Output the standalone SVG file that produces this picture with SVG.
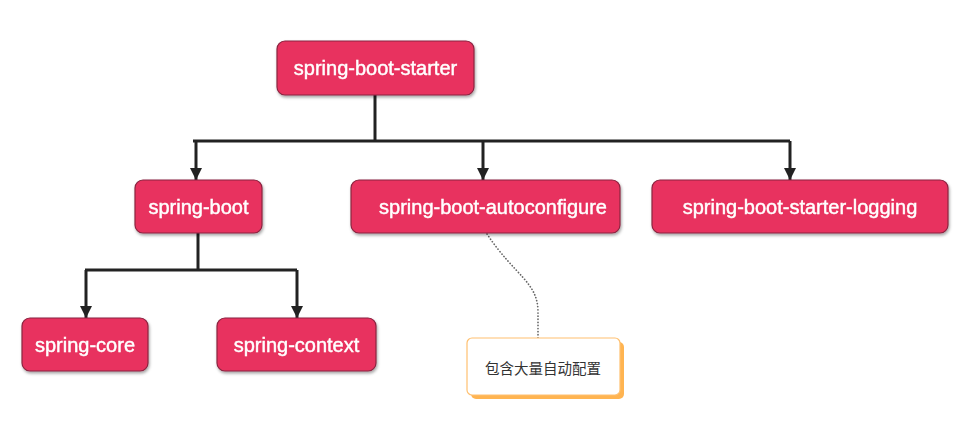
<svg xmlns="http://www.w3.org/2000/svg" width="965" height="436" viewBox="0 0 965 436">
<style>
.node rect{fill:#E8335E;stroke:#8a2440;stroke-width:1.2}
.node text{fill:#fff;stroke:#fff;stroke-width:0.45;font-family:"Liberation Sans",Arial,sans-serif;font-size:20px;text-anchor:middle;dominant-baseline:central}
.conn .edge{fill:none;stroke:#222;stroke-width:3}
.conn .dot{fill:none;stroke:#666;stroke-width:1.7;stroke-linecap:round;stroke-dasharray:0.1,3}
.note text{fill:#333;font-family:"Noto Sans CJK SC","Liberation Sans",sans-serif;font-size:14.5px;text-anchor:middle;dominant-baseline:central}
</style>
<defs>
<marker id="ah" viewBox="0 0 12 12" refX="12" refY="6" markerWidth="12" markerHeight="12" markerUnits="userSpaceOnUse" orient="auto">
<path d="M0,0 L12,6 L0,12 Z" fill="#222"/>
</marker>
<filter id="sh" x="-10%" y="-10%" width="120%" height="130%">
<feDropShadow dx="1" dy="2" stdDeviation="1.5" flood-color="#000" flood-opacity="0.35"/>
</filter>
</defs>
<rect width="965" height="436" fill="#fff"/>
<g class="conn">
<path class="edge" d="M375,95 V141"/>
<path class="edge" d="M193,141 H790"/>
<path class="edge" d="M196,141 V180" marker-end="url(#ah)"/>
<path class="edge" d="M483,141 V180" marker-end="url(#ah)"/>
<path class="edge" d="M790,141 V180" marker-end="url(#ah)"/>
<path class="edge" d="M198,233 V270"/>
<path class="edge" d="M85,270 H297"/>
<path class="edge" d="M86,270 V318" marker-end="url(#ah)"/>
<path class="edge" d="M297,270 V318" marker-end="url(#ah)"/>
<path class="dot" d="M487,234 C515,276 538,282 538,312 L538,338"/>
</g>
<g id="spring-boot-starter" class="node" filter="url(#sh)">
<rect x="277" y="41" width="197" height="54" rx="8"/>
<text x="375.5" y="68">spring-boot-starter</text>
</g>
<g id="spring-boot" class="node" filter="url(#sh)">
<rect x="135" y="180" width="127" height="53" rx="8"/>
<text x="198.5" y="207">spring-boot</text>
</g>
<g id="spring-boot-autoconfigure" class="node" filter="url(#sh)">
<rect x="351" y="180" width="269" height="53" rx="8"/>
<text x="493" y="207">spring-boot-autoconfigure</text>
</g>
<g id="spring-boot-starter-logging" class="node" filter="url(#sh)">
<rect x="652" y="180" width="296" height="53" rx="8"/>
<text x="800" y="207">spring-boot-starter-logging</text>
</g>
<g id="spring-core" class="node" filter="url(#sh)">
<rect x="22" y="318" width="126" height="53" rx="8"/>
<text x="85" y="345">spring-core</text>
</g>
<g id="spring-context" class="node" filter="url(#sh)">
<rect x="217" y="318" width="159" height="53" rx="8"/>
<text x="296.5" y="345">spring-context</text>
</g>
<g id="note" class="note">
<rect x="471" y="342" width="153" height="57" rx="5" fill="#FFA733" opacity="0.85"/>
<rect x="467" y="338" width="153" height="57" rx="5" fill="#fff" stroke="#FFC070" stroke-width="1.2"/>
<text x="543" y="367">包含大量自动配置</text>
</g>
</svg>
